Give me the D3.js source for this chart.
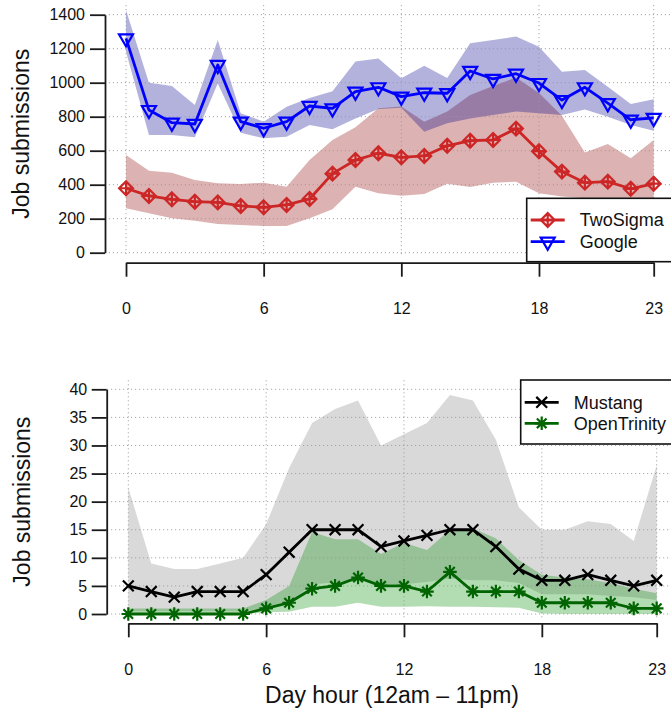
<!DOCTYPE html>
<html>
<head>
<meta charset="utf-8">
<script src="https://cdn.jsdelivr.net/npm/d3@7"></script>
<style>
body { margin: 0; background: #fff; }
text { font-family: "Liberation Sans", Arial, Helvetica, sans-serif; }
</style>
</head>
<body>
<div id="chart-area"></div>
<script>
// hours of the day
const hours = [0,1,2,3,4,5,6,7,8,9,10,11,12,13,14,15,16,17,18,19,20,21,22,23]
const xTicks = [0,6,12,18,23]
const topYTicks = [0,200,400,600,800,1000,1200,1400]
const botYTicks = [0,5,10,15,20,25,30,35,40]

// top panel: TwoSigma / Google
const twoSigma   = [379,334,314,300,296,275,267,281,316,465,545,585,561,569,629,659,663,730,597,477,412,418,376,406]
const twoSigmaHi = [575,482,471,428,408,404,412,388,545,663,738,850,860,771,830,928,980,1030,940,805,590,640,555,663]
const twoSigmaLo = [261,232,202,188,169,163,157,157,202,255,388,350,335,345,405,387,412,418,350,330,320,315,300,310]
const google     = [1261,839,765,757,1104,771,732,771,863,849,947,973,918,941,938,1069,1022,1053,998,898,973,880,782,793]
const googleHi   = [1428,1000,981,869,1251,820,771,859,910,950,1124,1143,1026,1100,1028,1232,1251,1272,1212,1065,1075,976,874,902]
const googleLo   = [1182,692,692,679,996,706,673,682,751,726,790,845,852,712,761,790,810,830,820,810,843,800,751,718]

// bottom panel: Mustang / OpenTrinity
const mustang    = [5,4,3,4,4,4,7,11,15,15,15,12,13,14,15,15,12,8,6,6,7,6,5,6]
const mustangHi  = [22.5,9,8,8,9,10,16,26,34,36.5,38,30,32,34,39,38,31,19,15,15,16.5,16,13,26.5]
const mustangLo  = [0.5,0.5,0.5,0.5,0.5,0.5,1,2,5.3,5.6,6.3,5.3,5.3,5.7,6.3,6,6,5.5,3.5,3.5,3.5,3.2,3,2.5]
const trinity    = [0,0,0,0,0,0,1,2,4.5,5,6.5,5,5,4,7.5,4,4,4,2,2,2,2,1,1]
const trinityHi  = [1,1,1,1,1,1,2.5,5,14.6,13.3,13.3,10.7,12.7,11.4,15,15.2,13.5,9.6,7,6.5,6.2,5.5,4.5,3.7]
const trinityLo  = [0,0,0,0,0,0,0.3,0.4,1.3,1.3,2,1.3,1.3,1.4,1.3,1.3,1.2,1.1,0.1,0,0,0,0,0]

const W = 671, H = 711
const svg = d3.select("#chart-area").append("svg")
    .attr("width", W)
    .attr("height", H)

// marker shapes (R pch style)
const markers = {
    diamondPlus: r => `M0,${-r}L${r},0L0,${r}L${-r},0Z M0,${-r}L0,${r} M${-r},0L${r},0`,
    triDown: r => `M${-1.347*r},${-0.778*r}L${1.347*r},${-0.778*r}L0,${1.555*r}Z`,
    cross: r => `M${-r},${-r}L${r},${r} M${-r},${r}L${r},${-r}`,
    star: r => { const a = r*0.707; return `M${-r},0L${r},0 M0,${-r}L0,${r} M${-a},${-a}L${a},${a} M${-a},${a}L${a},${-a}` }
}

function panel(cfg) {
    const x = d3.scaleLinear().domain([0,23]).range(cfg.xRange)
    const y = d3.scaleLinear().domain(cfg.yDomain).range(cfg.yRange)
    const ext = (cfg.yDomain[1]-cfg.yDomain[0])*0.04
    const left = x(-0.92), right = x(23.92)
    const top = y(cfg.yDomain[1]+ext), bottom = y(cfg.yDomain[0]-ext)
    const g = svg.append("g")

    // bands
    cfg.series.forEach(s => {
        g.append("path")
            .datum(hours)
            .attr("d", d3.area()
                .x(h => x(h))
                .y0((h,i) => y(s.lo[i]))
                .y1((h,i) => y(s.hi[i])))
            .attr("fill", s.band)
            .attr("fill-opacity", 0.3)
    })

    // dotted grid
    g.selectAll(".hgrid").data(cfg.yTicks).enter().append("line")
        .attr("x1", left).attr("x2", right)
        .attr("y1", d => y(d)).attr("y2", d => y(d))
        .attr("stroke", "#999").attr("stroke-width", 1).attr("stroke-dasharray", "1,3")
    g.selectAll(".vgrid").data(xTicks).enter().append("line")
        .attr("x1", d => x(d)).attr("x2", d => x(d))
        .attr("y1", top).attr("y2", bottom - 5)
        .attr("stroke", "#999").attr("stroke-width", 1).attr("stroke-dasharray", "1,3")

    // lines and markers
    cfg.series.forEach(s => {
        g.append("path")
            .datum(hours)
            .attr("d", d3.line().x(h => x(h)).y((h,i) => y(s.values[i])))
            .attr("fill", "none")
            .attr("stroke", s.color)
            .attr("stroke-width", 2.8)
            .attr("stroke-linejoin", "round")
        g.selectAll(null).data(hours).enter().append("path")
            .attr("transform", (h,i) => `translate(${x(h)},${y(s.values[i])})`)
            .attr("d", markers[s.shape](s.size))
            .attr("fill", "none")
            .attr("stroke", s.color)
            .attr("stroke-width", 2.2)
    })

    // axes
    const yAxis = g.append("g")
        .attr("transform", `translate(${cfg.yAxisX},0)`)
        .call(d3.axisLeft(y).tickValues(cfg.yTicks).tickFormat(d3.format("d"))
            .tickSize(15).tickSizeOuter(0).tickPadding(cfg.yPad))
    const xAxis = g.append("g")
        .attr("transform", `translate(0,${cfg.xAxisY})`)
        .call(d3.axisBottom(x).tickValues(xTicks).tickFormat(d3.format("d"))
            .tickSize(14).tickSizeOuter(0))
    ;[yAxis, xAxis].forEach(a => {
        a.select(".domain").attr("stroke", "#1a1a1a").attr("stroke-width", 1.8)
        a.selectAll(".tick line").attr("stroke", "#1a1a1a").attr("stroke-width", 1.8)
        a.selectAll("text").attr("font-size", 16).attr("fill", "#111")
            .style("font-family", '"Liberation Sans", Arial, sans-serif')
    })
    xAxis.selectAll("text").attr("y", 45.7).attr("dy", "0.35em")

    g.append("text")
        .attr("transform", `translate(${cfg.labelX},${(top+bottom)/2}) rotate(-90)`)
        .attr("text-anchor", "middle")
        .attr("dy", "0.35em")
        .attr("font-size", 23)
        .attr("fill", "#111")
        .text("Job submissions")

    // legend
    const lg = g.append("g")
    lg.append("rect")
        .attr("x", cfg.legend.x).attr("y", cfg.legend.y)
        .attr("width", 200).attr("height", cfg.legend.h)
        .attr("fill", "#fff").attr("stroke", "#111").attr("stroke-width", 1.6)
    cfg.series.forEach((s,i) => {
        const ly = cfg.legend.y + cfg.legend.first + i*cfg.legend.step
        const lx = cfg.legend.x + 4
        lg.append("line")
            .attr("x1", lx).attr("x2", lx+34).attr("y1", ly).attr("y2", ly)
            .attr("stroke", s.color).attr("stroke-width", 2.8)
        lg.append("path")
            .attr("transform", `translate(${lx+17},${ly})`)
            .attr("d", markers[s.shape](s.size))
            .attr("fill", "none").attr("stroke", s.color).attr("stroke-width", 2.2)
        lg.append("text")
            .attr("x", lx+49).attr("y", ly).attr("dy", "0.35em")
            .attr("font-size", 18).attr("fill", "#111")
            .text(s.name)
    })
    return {x, y}
}

panel({
    xRange: [126, 653.7], yDomain: [0,1400], yRange: [252.7, 14.7],
    yTicks: topYTicks, yAxisX: 105, xAxisY: 262.7, yPad: 5, labelX: 21,
    legend: {x: 526.7, y: 198.3, h: 63.4, first: 21.7, step: 21.7},
    series: [
        {name: "TwoSigma", values: twoSigma, hi: twoSigmaHi, lo: twoSigmaLo, color: "#cd2626", band: "#8b0000", shape: "diamondPlus", size: 6.9},
        {name: "Google", values: google, hi: googleHi, lo: googleLo, color: "#0000ff", band: "#00008b", shape: "triDown", size: 5.2}
    ]
})

panel({
    xRange: [128.3, 656.7], yDomain: [0,40], yRange: [614, 389.3],
    yTicks: botYTicks, yAxisX: 106.7, xAxisY: 623.3, yPad: 4.5, labelX: 22,
    legend: {x: 520.7, y: 380, h: 64, first: 22.3, step: 21},
    series: [
        {name: "Mustang", values: mustang, hi: mustangHi, lo: mustangLo, color: "#000000", band: "#808080", shape: "cross", size: 5.4},
        {name: "OpenTrinity", values: trinity, hi: trinityHi, lo: trinityLo, color: "#006400", band: "#008b00", shape: "star", size: 6.8}
    ]
})

svg.append("text")
    .attr("x", 392).attr("y", 695).attr("dy", "0.35em")
    .attr("text-anchor", "middle")
    .attr("font-size", 23)
    .attr("fill", "#111")
    .text("Day hour (12am \u2013 11pm)")
</script>
</body>
</html>
